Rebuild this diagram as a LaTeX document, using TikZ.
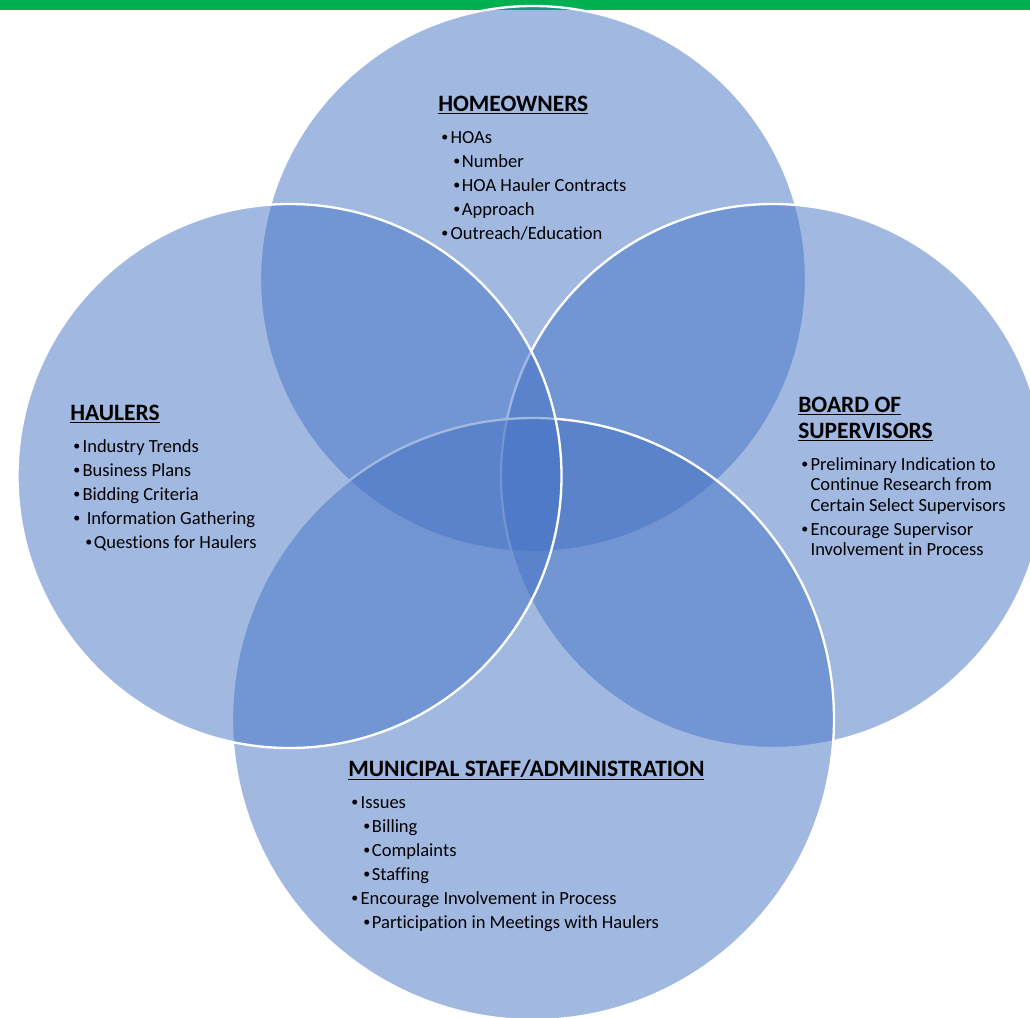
\documentclass[tikz,border=0pt]{standalone}
\usepackage{fontspec}
\setmainfont{Carlito}[Ligatures=NoCommon]
\definecolor{vennblue}{HTML}{4472C4}
\definecolor{bargreen}{HTML}{00B050}
\newcommand{\hd}[1]{{\fontsize{17.6}{18}\selectfont\bfseries\underline{#1}}}
\newcommand{\bdot}{\raisebox{1.1pt}{\fontsize{10.5}{10.5}\selectfont\textbullet}}
\newcommand{\bl}{\hspace*{2.25pt}\makebox[7pt][l]{\bdot}}
\newcommand{\sbl}{\hspace*{11.25pt}\makebox[6.5pt][l]{\bdot}}
\newcommand{\cont}{\hspace*{9.25pt}}

\begin{document}
\begin{tikzpicture}[x=0.75pt, y=-0.75pt,
    venn/.style={circle, draw=white, line width=1.75pt, fill=vennblue, fill opacity=0.5, inner sep=0pt},
    venntext/.style={anchor=north west, align=left, inner sep=0pt, text=black, font=\fontsize{13.9}{18}\selectfont}]
    \useasboundingbox (0,0) rectangle (1030,1017);
    \fill[bargreen] (0,0) rectangle (1030,10);
    % circles, back to front
    \node[venn, minimum size=409.5pt] (homeowners) at (533,279) {};
    \node[venn, minimum size=408pt] (board) at (773,476) {};
    \node[venn, minimum size=451.5pt] (municipal) at (533,719) {};
    \node[venn, minimum size=408pt] (haulers) at (289.5,476) {};
    % texts
    \node[venntext] (homeText) at (438,91) {\rule{0pt}{15pt}\hd{HOMEOWNERS}\\[6pt]
        \bl HOAs\\
        \sbl Number\\
        \sbl HOA Hauler Contracts\\
        \sbl Approach\\
        \bl Outreach/Education};
    \node[venntext] (haulText) at (70,400) {\rule{0pt}{15pt}\hd{HAULERS}\\[6pt]
        \bl Industry Trends\\
        \bl Business Plans\\
        \bl Bidding Criteria\\
        \bl\ Information Gathering\\
        \sbl Questions for Haulers};
    \node[venntext] (boardText) at (798,392) {\rule{0pt}{15pt}\hd{BOARD OF}\\[1.5pt]
        \hd{SUPERVISORS}\\[6pt]
        \bl Preliminary Indication to\\[-2.6pt]
        \cont Continue Research from\\[-2.6pt]
        \cont Certain Select Supervisors\\
        \bl Encourage Supervisor\\[-2.6pt]
        \cont Involvement in Process};
    \node[venntext] (muniText) at (348,756) {\rule{0pt}{15pt}\hd{MUNICIPAL STAFF/ADMINISTRATION}\\[6pt]
        \bl Issues\\
        \sbl Billing\\
        \sbl Complaints\\
        \sbl Staffing\\
        \bl Encourage Involvement in Process\\
        \sbl Participation in Meetings with Haulers};
\end{tikzpicture}
\end{document}
